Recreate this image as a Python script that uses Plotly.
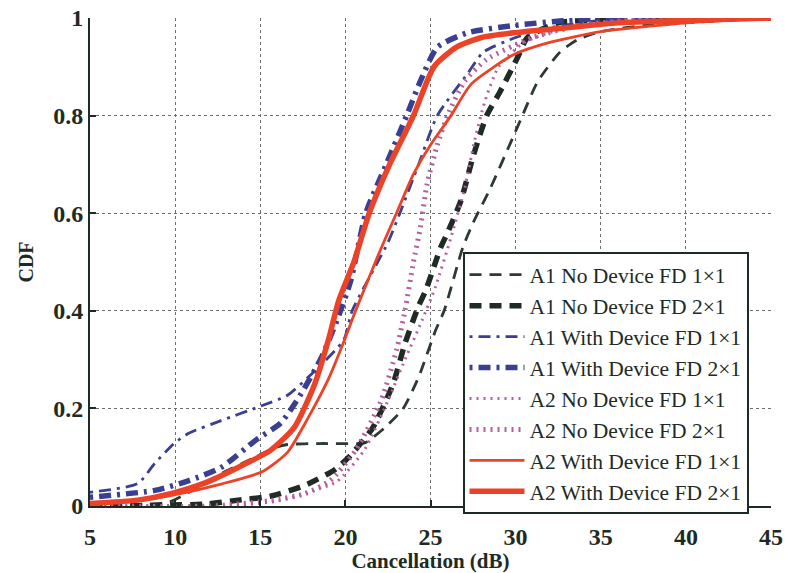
import plotly.graph_objects as go

# ---- data ----
a1_no_1x1_x = [5, 7.8, 9.8, 10.8, 12.7, 14.7, 15.9, 16.6, 18.5, 20.9, 21.2, 22.3, 23.4, 24.3, 25.3, 25.8, 26.9, 27.5, 28.5, 29.9, 30.4, 31.3, 32.6, 33.6, 35, 37.9, 40.9, 45]
a1_no_1x1_y = [0, 0.0, 0.01, 0.028, 0.066, 0.1, 0.12, 0.126, 0.128, 0.128, 0.13, 0.16, 0.2, 0.264, 0.36, 0.4, 0.53, 0.58, 0.65, 0.76, 0.8, 0.87, 0.93, 0.955, 0.972, 0.986, 0.992, 1]

a1_no_2x1_x = [5, 11.8, 13.7, 15.6, 17.6, 19.4, 20.2, 21.6, 22.8, 23.5, 24.3, 24.7, 25.6, 26.0, 26.8, 27.5, 28.3, 29.1, 30.1, 30.7, 32.5, 35, 40, 45]
a1_no_2x1_y = [0, 0.004, 0.012, 0.02, 0.042, 0.075, 0.1, 0.16, 0.25, 0.333, 0.41, 0.44, 0.53, 0.56, 0.627, 0.716, 0.8, 0.85, 0.918, 0.96, 0.99, 0.996, 1, 1]

a1_with_1x1_x = [5, 7.8, 8.8, 10, 10.8, 12.7, 14.9, 16.6, 18.0, 19.9, 20.4, 22.5, 23.2, 24.3, 25.4, 27.2, 28.1, 30, 32, 35, 38, 45]
a1_with_1x1_y = [0.028, 0.046, 0.087, 0.13, 0.149, 0.175, 0.203, 0.227, 0.27, 0.34, 0.4, 0.54, 0.6, 0.7, 0.8, 0.887, 0.93, 0.96, 0.98, 0.995, 1, 1]

a1_with_2x1_x = [5, 8.8, 10.8, 12.7, 14.7, 16.2, 17.4, 18.6, 19.5, 20.3, 21.2, 22.4, 23.6, 24.4, 25.4, 27.2, 30, 33, 36, 45]
a1_with_2x1_y = [0.018, 0.032, 0.052, 0.079, 0.134, 0.17, 0.23, 0.305, 0.38, 0.46, 0.6, 0.7, 0.8, 0.87, 0.94, 0.97, 0.985, 0.995, 1, 1]

a2_no_1x1_x = [5, 13, 16, 18, 19.5, 21.1, 22.5, 23.5, 24.5, 25.3, 26.2, 27.0, 27.6, 28.2, 29.0, 30.5, 33, 37, 45]
a2_no_1x1_y = [0, 0, 0.01, 0.03, 0.05, 0.114, 0.216, 0.3, 0.38, 0.45, 0.55, 0.65, 0.75, 0.83, 0.9, 0.95, 0.98, 0.997, 1]

a2_no_2x1_x = [5, 12, 15.6, 17.6, 19.1, 20.6, 22.1, 23.0, 23.5, 24.0, 24.4, 24.8, 25.4, 26.0, 27.0, 28.3, 31, 34, 38, 45]
a2_no_2x1_y = [0, 0, 0.011, 0.025, 0.052, 0.114, 0.216, 0.319, 0.4, 0.5, 0.57, 0.66, 0.74, 0.8, 0.87, 0.915, 0.96, 0.986, 0.998, 1]

a2_with_1x1_x = [5, 7.8, 9.8, 12.7, 15.1, 16.6, 17.8, 19.0, 20.0, 20.6, 22.0, 23.0, 24.0, 25.0, 26.2, 27.4, 29.9, 32, 35, 40, 45]
a2_with_1x1_y = [0.005, 0.011, 0.022, 0.045, 0.07, 0.11, 0.18, 0.26, 0.345, 0.4, 0.52, 0.6, 0.68, 0.74, 0.8, 0.865, 0.925, 0.95, 0.972, 0.99, 1]

a2_with_2x1_x = [5, 7.8, 9.8, 11.8, 13.7, 15.6, 17.0, 18.2, 19.0, 19.6, 20.5, 21.4, 22.6, 24.0, 25.2, 26.5, 28, 30, 33, 36, 40, 45]
a2_with_2x1_y = [0.005, 0.012, 0.026, 0.048, 0.079, 0.114, 0.161, 0.25, 0.34, 0.42, 0.5, 0.6, 0.7, 0.8, 0.9, 0.94, 0.96, 0.97, 0.98, 0.99, 0.995, 1]

x_ticks = [5, 10, 15, 20, 25, 30, 35, 40, 45]
y_ticks = [0, 0.2, 0.4, 0.6, 0.8, 1]
y_tick_labels = ["0", "0.2", "0.4", "0.6", "0.8", "1"]

BLACK = "#1f2b24"
GRAY_BLACK = "#2c3a32"
BLUE = "#3a3f92"
PINK = "#b4609f"
RED = "#ec4328"
TEXT = "#1e2a24"
FONT = "Liberation Serif"

series = [
    ("A1 No Device FD 1×1", a1_no_1x1_x, a1_no_1x1_y, GRAY_BLACK, 2.8, "12px,8px"),
    ("A1 No Device FD 2×1", a1_no_2x1_x, a1_no_2x1_y, BLACK, 5.5, "12px,8px"),
    ("A1 With Device FD 1×1", a1_with_1x1_x, a1_with_1x1_y, BLUE, 2.8, "3px,6px,12px,6px"),
    ("A1 With Device FD 2×1", a1_with_2x1_x, a1_with_2x1_y, BLUE, 5.5, "3px,6px,12px,6px"),
    ("A2 No Device FD 1×1", a2_no_1x1_x, a2_no_1x1_y, PINK, 3, "2px,5px"),
    ("A2 No Device FD 2×1", a2_no_2x1_x, a2_no_2x1_y, PINK, 5, "2px,5px"),
    ("A2 With Device FD 1×1", a2_with_1x1_x, a2_with_1x1_y, RED, 2.8, "solid"),
    ("A2 With Device FD 2×1", a2_with_2x1_x, a2_with_2x1_y, RED, 5.5, "solid"),
]

fig = go.Figure()
for name, xs, ys, color, w, dash in series:
    fig.add_trace(go.Scatter(
        x=xs, y=ys, mode="lines", name=name,
        line=dict(color=color, width=w, dash=dash, shape="spline", smoothing=0.6),
    ))

fig.update_layout(
    width=787, height=573,
    margin=dict(l=90, r=16, t=18, b=67),
    paper_bgcolor="white", plot_bgcolor="white",
    font=dict(family=FONT, color=TEXT, size=20),
    showlegend=True,
    legend=dict(
        x=0.547, y=0.52, xanchor="left", yanchor="top",
        bgcolor="white", bordercolor=TEXT, borderwidth=2,
        font=dict(family=FONT, size=21.5, color=TEXT),
        itemwidth=55, tracegroupgap=0,
    ),
)
fig.update_xaxes(
    range=[5, 45], tickvals=x_ticks, ticktext=[str(v) for v in x_ticks],
    automargin=False,
    showline=True, linecolor=TEXT, linewidth=2,
    ticks="inside", ticklen=6, tickwidth=2, tickcolor=TEXT,
    ticklabelstandoff=8,
    showgrid=True, gridcolor="#6a6f6c", griddash="dot", gridwidth=1,
    zeroline=False,
    tickfont=dict(family=FONT, size=24, color=TEXT, weight="bold"),
    title=dict(text="<b>Cancellation (dB)</b>", font=dict(family=FONT, size=21, color=TEXT), standoff=2),
)
fig.update_yaxes(
    range=[0, 1], tickvals=y_ticks, ticktext=y_tick_labels,
    automargin=False,
    showline=True, linecolor=TEXT, linewidth=2,
    ticks="inside", ticklen=6, tickwidth=2, tickcolor=TEXT,
    showgrid=True, gridcolor="#6a6f6c", griddash="dot", gridwidth=1,
    zeroline=False,
    tickfont=dict(family=FONT, size=24, color=TEXT, weight="bold"),
    title=dict(text="<b>CDF</b>", font=dict(family=FONT, size=20, color=TEXT), standoff=14),
)

fig.write_html(
    "out.html",
    config={"displayModeBar": False},
    post_script="document.body.style.margin='0';document.body.style.overflow='hidden';",
)
